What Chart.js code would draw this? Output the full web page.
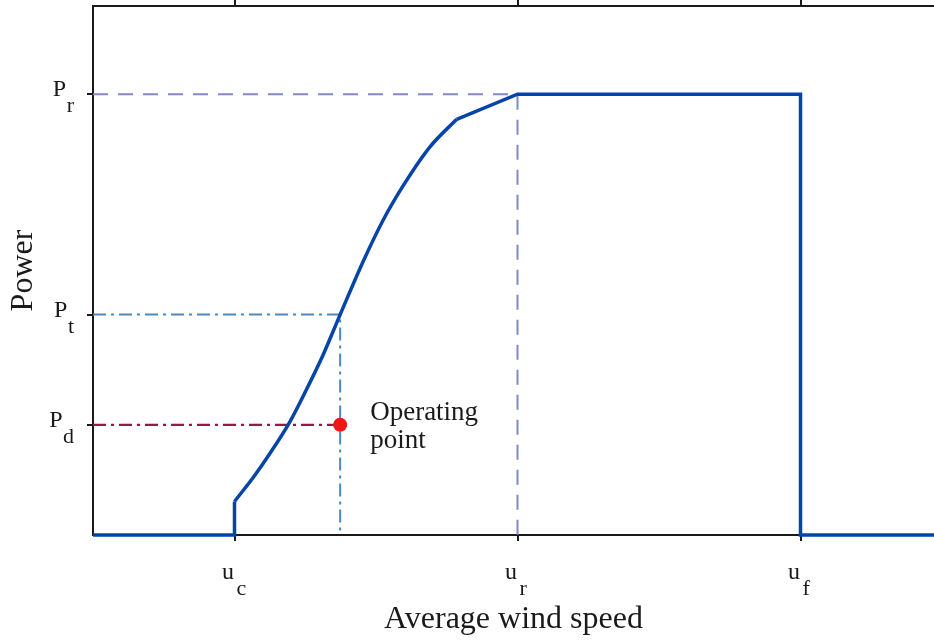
<!DOCTYPE html>
<html>
<head>
<meta charset="utf-8">
<script src="https://cdn.jsdelivr.net/npm/chart.js@4.4.1/dist/chart.umd.min.js"></script>
<style>
  html, body { margin: 0; padding: 0; background: #fff; }
  #wrap { width: 934px; height: 640px; position: relative; }
</style>
</head>
<body>
<div id="wrap"><canvas id="chart"></canvas></div>
<script>
// wind turbine power curve (schematic)
const curveSpeed = [3, 3.4, 3.75, 4.18, 4.53, 4.88, 5.24, 5.73, 6.15, 6.58, 7.14, 7.71];
const curvePower = [0.076, 0.131, 0.185, 0.258, 0.331, 0.409, 0.5, 0.621, 0.714, 0.793, 0.88, 0.943];
const belowSpeed = [0, 3, 3];
const belowPower = [0, 0, 0.076];
const ratedSpeed = [7.71, 9, 15, 15, 17.83];
const ratedPower = [0.943, 1, 1, 0, 0];

const prLineSpeed = [0, 9, 9];
const prLinePower = [1, 1, 0];
const ptLineSpeed = [0, 5.24, 5.24];
const ptLinePower = [0.5, 0.5, 0];
const pdLineSpeed = [0, 5.24];
const pdLinePower = [0.25, 0.25];
const opSpeed = [5.24];
const opPower = [0.25];

const xTicks = [3, 9, 15];
const xTickSub = ["c", "r", "f"];
const yTicks = [0.25, 0.5, 1];
const yTickSub = ["d", "t", "r"];

const toXY = (xs, ys) => xs.map((x, i) => ({ x: x, y: ys[i] }));

const BLUE = "#0544a8";
const SERIF = '"Liberation Serif", "DejaVu Serif", serif';

const tickLabels = {
  id: "tickLabels",
  afterDraw(chart) {
    const ctx = chart.ctx;
    const xs = chart.scales.x;
    const ys = chart.scales.y;
    ctx.save();
    ctx.fillStyle = "#1a1a1a";
    ctx.textBaseline = "alphabetic";
    ctx.textAlign = "left";
    xTicks.forEach((v, i) => {
      const px = xs.getPixelForValue(v);
      ctx.font = "24px " + SERIF;
      const w = ctx.measureText("u").width;
      ctx.fillText("u", px - w - 0.5, 579);
      ctx.font = "22px " + SERIF;
      ctx.fillText(xTickSub[i], px + 2, 595);
    });
    yTicks.forEach((v, i) => {
      const py = ys.getPixelForValue(v);
      ctx.font = "22px " + SERIF;
      const sw = ctx.measureText(yTickSub[i]).width;
      const sx = 74 - sw;
      ctx.fillText(yTickSub[i], sx, py + 18);
      ctx.font = "24px " + SERIF;
      const mw = ctx.measureText("P").width;
      ctx.fillText("P", sx - mw - 0.5, py + 2);
    });
    // annotation next to the operating point
    const ox = xs.getPixelForValue(opSpeed[0]);
    const oy = ys.getPixelForValue(opPower[0]);
    ctx.font = "27px " + SERIF;
    ctx.fillText("Operating", ox + 30, oy - 5);
    ctx.fillText("point", ox + 30, oy + 23);
    ctx.restore();
  }
};

const axisGrid = {
  display: true,
  drawOnChartArea: false,
  drawTicks: true,
  tickLength: 6,
  color: "#1a1a1a",
  lineWidth: 2
};
const axisBorder = { display: true, color: "#1a1a1a", width: 2 };

new Chart(document.getElementById("chart"), {
  type: "scatter",
  data: {
    datasets: [
      {
        data: toXY(opSpeed, opPower),
        pointRadius: 7,
        pointBackgroundColor: "#f01414",
        pointBorderWidth: 0,
        showLine: false
      },
      {
        data: toXY(curveSpeed, curvePower),
        showLine: true,
        borderColor: BLUE,
        borderWidth: 3.5,
        pointRadius: 0,
        cubicInterpolationMode: "monotone"
      },
      {
        data: toXY(belowSpeed, belowPower),
        showLine: true,
        borderColor: BLUE,
        borderWidth: 3.5,
        pointRadius: 0,
        clip: 4
      },
      {
        data: toXY(ratedSpeed, ratedPower),
        showLine: true,
        borderColor: BLUE,
        borderWidth: 3.5,
        pointRadius: 0,
        clip: 4
      },
      {
        data: toXY(prLineSpeed, prLinePower),
        showLine: true,
        borderColor: "#8089c2",
        borderWidth: 2,
        borderDash: [15, 10],
        pointRadius: 0
      },
      {
        data: toXY(ptLineSpeed, ptLinePower),
        showLine: true,
        borderColor: "#4a89c2",
        borderWidth: 2,
        borderDash: [13, 5, 3, 5],
        pointRadius: 0
      },
      {
        data: toXY(pdLineSpeed, pdLinePower),
        showLine: true,
        borderColor: "#9a1742",
        borderWidth: 2.2,
        borderDash: [13, 5, 3, 5],
        pointRadius: 0
      }
    ]
  },
  options: {
    responsive: true,
    maintainAspectRatio: false,
    animation: false,
    layout: { padding: 0, autoPadding: false },
    plugins: {
      legend: { display: false },
      tooltip: { enabled: false }
    },
    scales: {
      x: {
        type: "linear",
        position: "bottom",
        min: 0,
        max: 17.83,
        afterBuildTicks: (s) => { s.ticks = xTicks.map(v => ({ value: v })); },
        afterFit: (s) => { s.height = 105; },
        ticks: { display: false },
        grid: axisGrid,
        border: axisBorder,
        title: {
          display: true,
          text: "Average wind speed",
          color: "#1a1a1a",
          font: { family: SERIF, size: 32 },
          padding: { top: 0, bottom: 1 }
        }
      },
      x2: {
        type: "linear",
        position: "top",
        min: 0,
        max: 17.83,
        afterBuildTicks: (s) => { s.ticks = xTicks.map(v => ({ value: v })); },
        afterFit: (s) => { s.height = 6; },
        ticks: { display: false },
        grid: axisGrid,
        border: axisBorder
      },
      y: {
        type: "linear",
        min: 0,
        max: 1.2,
        afterBuildTicks: (s) => { s.ticks = yTicks.map(v => ({ value: v })); },
        afterFit: (s) => { s.width = 93; },
        ticks: { display: false },
        grid: axisGrid,
        border: axisBorder,
        title: {
          display: true,
          text: "Power",
          color: "#1a1a1a",
          font: { family: SERIF, size: 32 },
          padding: { top: 4, bottom: 0 }
        }
      }
    }
  },
  plugins: [tickLabels]
});
</script>
</body>
</html>
